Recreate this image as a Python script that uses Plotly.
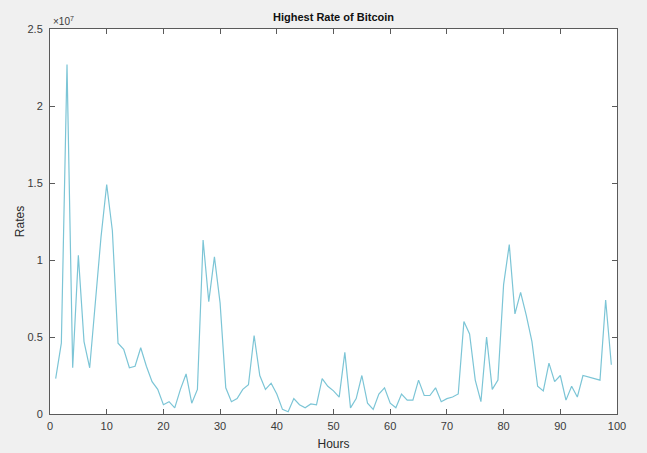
import plotly.graph_objects as go

hours = list(range(1, 100))
rates = [
    2300000, 4600000, 22700000, 3000000, 10300000, 4700000, 3000000, 7500000, 11500000, 14900000,
    11900000, 4600000, 4200000, 3000000, 3100000, 4300000, 3100000, 2100000, 1600000, 600000,
    800000, 400000, 1600000, 2600000, 700000, 1600000, 11300000, 7300000, 10200000, 7200000,
    1700000, 800000, 1000000, 1600000, 1900000, 5100000, 2500000, 1600000, 2000000, 1300000,
    300000, 150000, 1000000, 600000, 400000, 650000, 600000, 2300000, 1800000, 1500000,
    1100000, 4000000, 400000, 1000000, 2500000, 700000, 300000, 1300000, 1700000, 700000,
    400000, 1300000, 900000, 900000, 2200000, 1200000, 1200000, 1700000, 800000, 1000000,
    1100000, 1300000, 6000000, 5200000, 2200000, 800000, 5000000, 1600000, 2200000, 8400000,
    11000000, 6500000, 7900000, 6400000, 4700000, 1800000, 1500000, 3300000, 2100000, 2500000,
    900000, 1800000, 1100000, 2500000, 2400000, 2300000, 2200000, 7400000, 3200000,
]

x_ticks = [0, 10, 20, 30, 40, 50, 60, 70, 80, 90, 100]
y_tickvals = [0, 5000000, 10000000, 15000000, 20000000, 25000000]
y_ticktext = ["0", "0.5", "1", "1.5", "2", "2.5"]

font = "Liberation Sans, Arial, Helvetica, sans-serif"

fig = go.Figure()
fig.add_trace(go.Scatter(
    x=hours, y=rates, mode="lines",
    line=dict(color="#7cc5d6", width=1.2),
    showlegend=False, hoverinfo="skip",
))

axis_common = dict(
    showline=True, linecolor="#5a5a5a", linewidth=1, mirror="ticks",
    ticks="inside", ticklen=5, tickcolor="#5a5a5a", tickwidth=1,
    showgrid=False, zeroline=False, automargin=False,
    tickfont=dict(family=font, size=11, color="#3a3a3a"),
)

fig.update_layout(
    width=647, height=453,
    margin=dict(l=50, r=30, t=29, b=39),
    paper_bgcolor="#f0f0f0", plot_bgcolor="#ffffff",
    title=dict(text="<b>Highest Rate of Bitcoin</b>", x=0.5, xref="paper",
               y=1, yref="paper", yanchor="bottom", pad=dict(b=8),
               font=dict(family=font, size=11, color="#111111")),
    xaxis=dict(range=[0, 100], tickvals=x_ticks, ticklabelstandoff=2,
               title=dict(text="Hours", standoff=8, font=dict(family=font, size=12, color="#2a2a2a")),
               **axis_common),
    yaxis=dict(range=[0, 25000000], tickvals=y_tickvals, ticktext=y_ticktext,
               ticklabelstandoff=4,
               title=dict(text="Rates", standoff=0, font=dict(family=font, size=12, color="#2a2a2a")),
               **axis_common),
    annotations=[dict(
        text="×10<sup>7</sup>", x=0, y=1, xref="paper", yref="paper",
        xanchor="left", yanchor="bottom", showarrow=False, xshift=1,
        font=dict(family=font, size=10, color="#3a3a3a"),
    )],
)

fig.write_html("out.html")
